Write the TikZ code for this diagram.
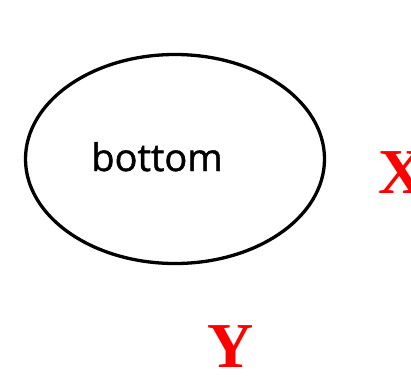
\documentclass[tikz,border=0pt]{standalone}
\usepackage{fontspec}
\usetikzlibrary{shapes.geometric}
\newfontfamily\labelfont[FakeBold=1.2]{Open Sans}
\newfontfamily\axisfont{Liberation Serif}
\begin{document}
\begin{tikzpicture}[x=1pt,y=1pt,
 rim/.style={ellipse,draw=black,line width=3.3pt,minimum width=299pt,minimum height=209pt,inner sep=0pt},
 axis/.style={text=red,font=\axisfont\bfseries\fontsize{64}{64}\selectfont,anchor=base,inner sep=0pt}]
 \clip (0,0) rectangle (411,376);
 \useasboundingbox (0,0) rectangle (411,376);
 \node[rim] (shell) at (175,217) {};
 \node[font=\labelfont\fontsize{38}{38}\selectfont,anchor=base,inner sep=0pt] (word) at (157,205) {bottom};
 \node[axis] (xaxis) at (402,183) {X};
 \node[axis] (yaxis) at (231,9) {Y};
\end{tikzpicture}
\end{document}
